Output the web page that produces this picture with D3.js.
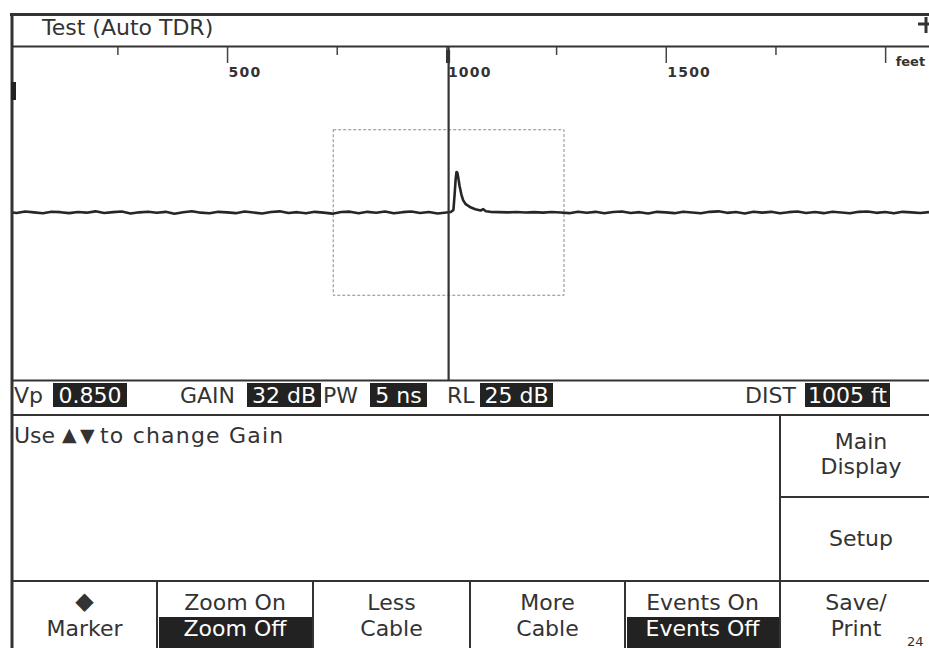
<!DOCTYPE html>
<html>
<head>
<meta charset="utf-8">
<script src="https://cdn.jsdelivr.net/npm/d3@7"></script>
<style>
    body { margin: 0; background: #fff; }
    svg text { font-family: "DejaVu Sans", sans-serif; fill: #333; }
    .axis text { font-weight: bold; }
</style>
</head>
<body>
<div id="tdr-area"></div>
<script>

// ---- data ----
let tickFeet = [250, 500, 750, 1000, 1250, 1500, 1750, 2000];
let tickLabels = ["", "500", "", "1000", "", "1500", "", "feet"];

// trace: [distance in feet, level]
let trace = [
    [0,0.4],[20,-0.3],[40,0.6],[60,0.1],[80,-0.5],[100,0.5],[120,0.2],[140,-0.4],[160,0.3],[180,-0.1],
    [200,0.7],[220,-0.3],[240,0.2],[260,0.6],[280,-0.6],[300,0.1],[320,0.5],[340,-0.2],[360,0.4],[380,-0.7],
    [400,0.2],[420,0.8],[440,-0.1],[460,-0.5],[480,0.4],[500,0.1],[520,-0.4],[540,0.6],[560,0.0],[580,-0.6],
    [600,0.3],[620,0.7],[640,-0.3],[660,0.2],[680,-0.5],[700,0.4],[720,-0.1],[740,-0.7],[760,0.3],[780,0.5],
    [800,-0.4],[820,0.4],[840,-0.2],[860,0.6],[880,-0.5],[900,0.2],[920,0.6],[940,-0.3],[960,0.3],[980,-0.6],
    [1000,0.0],[1010,0.3],[1016,1.5],[1019,12],[1021,20],[1023,24.5],[1025,24],[1027,21],[1030,16],[1034,11],
    [1038,7.5],[1044,5],[1050,4],[1056,3],[1066,2],[1078,1.2],[1084,2.0],[1090,0.8],[1100,0.4],[1120,0.2],
    [1140,0.1],[1160,0.3],[1180,0.0],[1200,0.2],[1220,-0.1],[1240,0.3],[1260,0.0],[1280,-0.4],[1300,0.5],[1320,-0.2],
    [1340,0.4],[1360,-0.5],[1380,0.3],[1400,0.6],[1420,-0.3],[1440,0.2],[1460,-0.6],[1480,0.4],[1500,0.1],[1520,-0.4],
    [1540,0.5],[1560,0.0],[1580,-0.5],[1600,0.4],[1620,0.7],[1640,-0.2],[1660,0.3],[1680,-0.6],[1700,0.5],[1720,-0.1],
    [1740,0.4],[1760,-0.5],[1780,0.2],[1800,0.6],[1820,-0.3],[1840,0.3],[1860,-0.4],[1880,0.5],[1900,0.0],[1920,-0.5],
    [1940,0.4],[1960,0.6],[1980,-0.2],[2000,0.3],[2020,-0.5],[2040,0.4],[2060,0.1],[2080,-0.3],[2100,0.2]
];

let cursorFeet = 1005;
let zoomFeet = [742, 1268];
let zoomLevel = [-50, 50];

let statusLabels = ["Vp", "GAIN", "PW", "RL", "DIST"];
let statusValues = ["0.850", "32 dB", "5 ns", "25 dB", "1005 ft"];

let title = "Test (Auto TDR)";
let message = ["Use", "\u25B2", "\u25BC", "to change Gain"];
let sideKeys = [["Main", "Display"], ["Setup"]];
let softKeys = [["\u25C6", "Marker"], ["Zoom On", "Zoom Off"], ["Less", "Cable"], ["More", "Cable"], ["Events On", "Events Off"], ["Save/", "Print"]];
let softKeyActive = [null, 1, null, null, 1, null];
let pageNo = "24";


/* * * * * * * * * * * * * *
*      class TdrVis          *
* * * * * * * * * * * * * */

class TdrVis {

    constructor(parentElement) {
        this.parentElement = parentElement;
        this.initVis();
    }

    initVis() {
        let vis = this;

        vis.width = 929;
        vis.height = 648;
        vis.ink = "#333";
        vis.fill = "#222";

        vis.svg = d3.select("#" + vis.parentElement).append("svg")
            .attr("width", vis.width)
            .attr("height", vis.height);

        vis.svg.append("rect")
            .attr("width", vis.width).attr("height", vis.height)
            .attr("fill", "#fff");

        // plot area
        vis.plotTop = 47;
        vis.plotBottom = 380;

        vis.x = d3.scaleLinear()
            .domain([0, 2100])
            .range([7.7, 929]);

        vis.y = d3.scaleLinear()
            .domain([-100, 100])
            .range([378, 47]);

        vis.drawFrame();
        vis.drawPlot();
        vis.drawStatus();
        vis.drawKeys();
    }

    drawFrame() {
        let vis = this;

        let hline = (y, x1, x2, w) => vis.svg.append("line")
            .attr("x1", x1).attr("x2", x2).attr("y1", y).attr("y2", y)
            .attr("stroke", vis.ink).attr("stroke-width", w);
        let vline = (x, y1, y2, w) => vis.svg.append("line")
            .attr("x1", x).attr("x2", x).attr("y1", y1).attr("y2", y2)
            .attr("stroke", vis.ink).attr("stroke-width", w);

        hline(14.5, 10, 929, 3);
        hline(46.5, 12, 929, 2);
        hline(380.5, 12, 929, 2);
        hline(415, 12, 929, 2);
        hline(581, 12, 929, 2);
        hline(497, 780, 929, 2);
        vline(12, 13, 648, 3);
        vline(780, 415, 648, 2);
        [157, 313, 470, 625].forEach(x => vline(x, 581, 648, 2));

        // left edge marker
        vis.svg.append("rect")
            .attr("x", 11).attr("y", 82).attr("width", 5).attr("height", 18)
            .attr("fill", vis.fill);

        // top-right corner cross
        hline(24, 918, 929, 3);
        vline(926, 17, 33, 3);

        vis.svg.append("text")
            .attr("x", 42).attr("y", 35)
            .style("font-size", "22px")
            .text(title);
    }

    drawPlot() {
        let vis = this;

        vis.plot = vis.svg.append("g");

        vis.plot.append("clipPath").attr("id", "plot-clip")
            .append("rect")
            .attr("x", 13).attr("y", vis.plotTop)
            .attr("width", vis.width - 13).attr("height", vis.plotBottom - vis.plotTop);

        // distance axis along the top
        vis.xAxis = d3.axisBottom(vis.x)
            .tickValues(tickFeet)
            .tickSizeOuter(0)
            .tickFormat((d, i) => tickLabels[i]);

        vis.xAxisGroup = vis.plot.append("g")
            .attr("class", "axis")
            .attr("transform", `translate(0, ${vis.plotTop})`)
            .call(vis.xAxis);

        vis.xAxisGroup.select(".domain").remove();
        vis.xAxisGroup.selectAll(".tick line")
            .attr("stroke", "#444")
            .attr("stroke-width", 1.5)
            .attr("y2", d => d % 500 === 0 ? 16 : 8);
        vis.xAxisGroup.selectAll(".tick text")
            .attr("text-anchor", "start")
            .attr("x", (d, i) => tickLabels[i] === "feet" ? 10 : 1)
            .attr("y", (d, i) => tickLabels[i] === "feet" ? 10 : 20)
            .attr("dy", "0.71em")
            .style("font-size", (d, i) => tickLabels[i] === "feet" ? "13px" : "14px")
            .style("letter-spacing", (d, i) => tickLabels[i] === "feet" ? "0px" : "1.2px")
            .attr("fill", "#333");

        // zoom window
        vis.plot.append("rect")
            .attr("x", vis.x(zoomFeet[0]))
            .attr("y", vis.y(zoomLevel[1]))
            .attr("width", vis.x(zoomFeet[1]) - vis.x(zoomFeet[0]))
            .attr("height", vis.y(zoomLevel[0]) - vis.y(zoomLevel[1]))
            .attr("fill", "none")
            .attr("stroke", "#8a8a8a")
            .attr("stroke-width", 1)
            .attr("stroke-dasharray", "3,2");

        // trace
        vis.line = d3.line()
            .x(d => vis.x(d[0]))
            .y(d => vis.y(d[1]));

        vis.plot.append("path")
            .datum(trace)
            .attr("clip-path", "url(#plot-clip)")
            .attr("d", vis.line)
            .attr("fill", "none")
            .attr("stroke", "#262626")
            .attr("stroke-width", 2.6)
            .attr("stroke-linejoin", "round");

        // cursor
        vis.plot.append("line")
            .attr("x1", vis.x(cursorFeet)).attr("x2", vis.x(cursorFeet))
            .attr("y1", vis.plotTop).attr("y2", vis.plotBottom)
            .attr("stroke", "#333")
            .attr("stroke-width", 2.2);
        vis.plot.append("rect")
            .attr("x", vis.x(cursorFeet) - 2.5).attr("y", vis.plotTop + 3)
            .attr("width", 4).attr("height", 13)
            .attr("fill", "#333");
    }

    drawStatus() {
        let vis = this;

        let labelX = [14, 180, 323, 447, 745];
        let boxX = [53, 247, 370, 480, 805];
        let boxW = [74, 74, 57, 73, 85];

        let g = vis.svg.append("g").style("font-size", "22px");

        g.selectAll(".status-label")
            .data(statusLabels)
            .enter().append("text")
            .attr("class", "status-label")
            .attr("x", (d, i) => labelX[i])
            .attr("y", 403)
            .text(d => d);

        g.selectAll(".status-box")
            .data(statusValues)
            .enter().append("rect")
            .attr("class", "status-box")
            .attr("x", (d, i) => boxX[i])
            .attr("y", 383)
            .attr("width", (d, i) => boxW[i])
            .attr("height", 24)
            .attr("fill", vis.fill);

        g.selectAll(".status-value")
            .data(statusValues)
            .enter().append("text")
            .attr("class", "status-value")
            .attr("x", (d, i) => boxX[i] + boxW[i] / 2)
            .attr("y", 403)
            .attr("text-anchor", "middle")
            .style("fill", "#fff")
            .text(d => d);

        // help line, arrows drawn smaller than the words
        let partX = [14, 62, 80, 100];
        let partDy = [0, -2, -1, 0];
        let msg = vis.svg.append("g").style("font-size", "22px");
        msg.selectAll("text")
            .data(message)
            .enter().append("text")
            .attr("x", (d, i) => partX[i])
            .attr("y", (d, i) => 443 + partDy[i])
            .style("font-size", (d, i) => (i === 1 || i === 2) ? "19px" : null)
            .style("letter-spacing", (d, i) => i === 3 ? "1.2px" : null)
            .text(d => d);
    }

    drawKeys() {
        let vis = this;

        let g = vis.svg.append("g").style("font-size", "22px");

        // side keys
        let sideY = [[449, 474], [546]];
        sideKeys.forEach((lines, k) => {
            lines.forEach((t, j) => {
                g.append("text")
                    .attr("x", 861).attr("y", sideY[k][j])
                    .attr("text-anchor", "middle")
                    .text(t);
            });
        });

        // soft keys along the bottom
        let keyEdges = [12, 157, 313, 470, 625, 780, 936];
        softKeys.forEach((lines, k) => {
            let x0 = keyEdges[k], x1 = keyEdges[k + 1];
            let cx = (x0 + x1) / 2;
            if (k === 5) cx = 856;
            if (softKeyActive[k] !== null) {
                g.append("rect")
                    .attr("x", x0 + 2).attr("y", 617)
                    .attr("width", x1 - x0 - 3).attr("height", 32)
                    .attr("fill", vis.fill);
            }
            lines.forEach((t, j) => {
                g.append("text")
                    .attr("x", cx)
                    .attr("y", j === 0 ? (t === "\u25C6" ? 609 : 610) : 636)
                    .attr("text-anchor", "middle")
                    .style("fill", softKeyActive[k] === j ? "#fff" : null)
                    .style("font-size", t === "\u25C6" ? "24px" : null)
                    .text(t);
            });
        });

        vis.svg.append("text")
            .attr("x", 907).attr("y", 646)
            .style("font-size", "13px")
            .text(pageNo);
    }
}

new TdrVis("tdr-area");

</script>
</body>
</html>
